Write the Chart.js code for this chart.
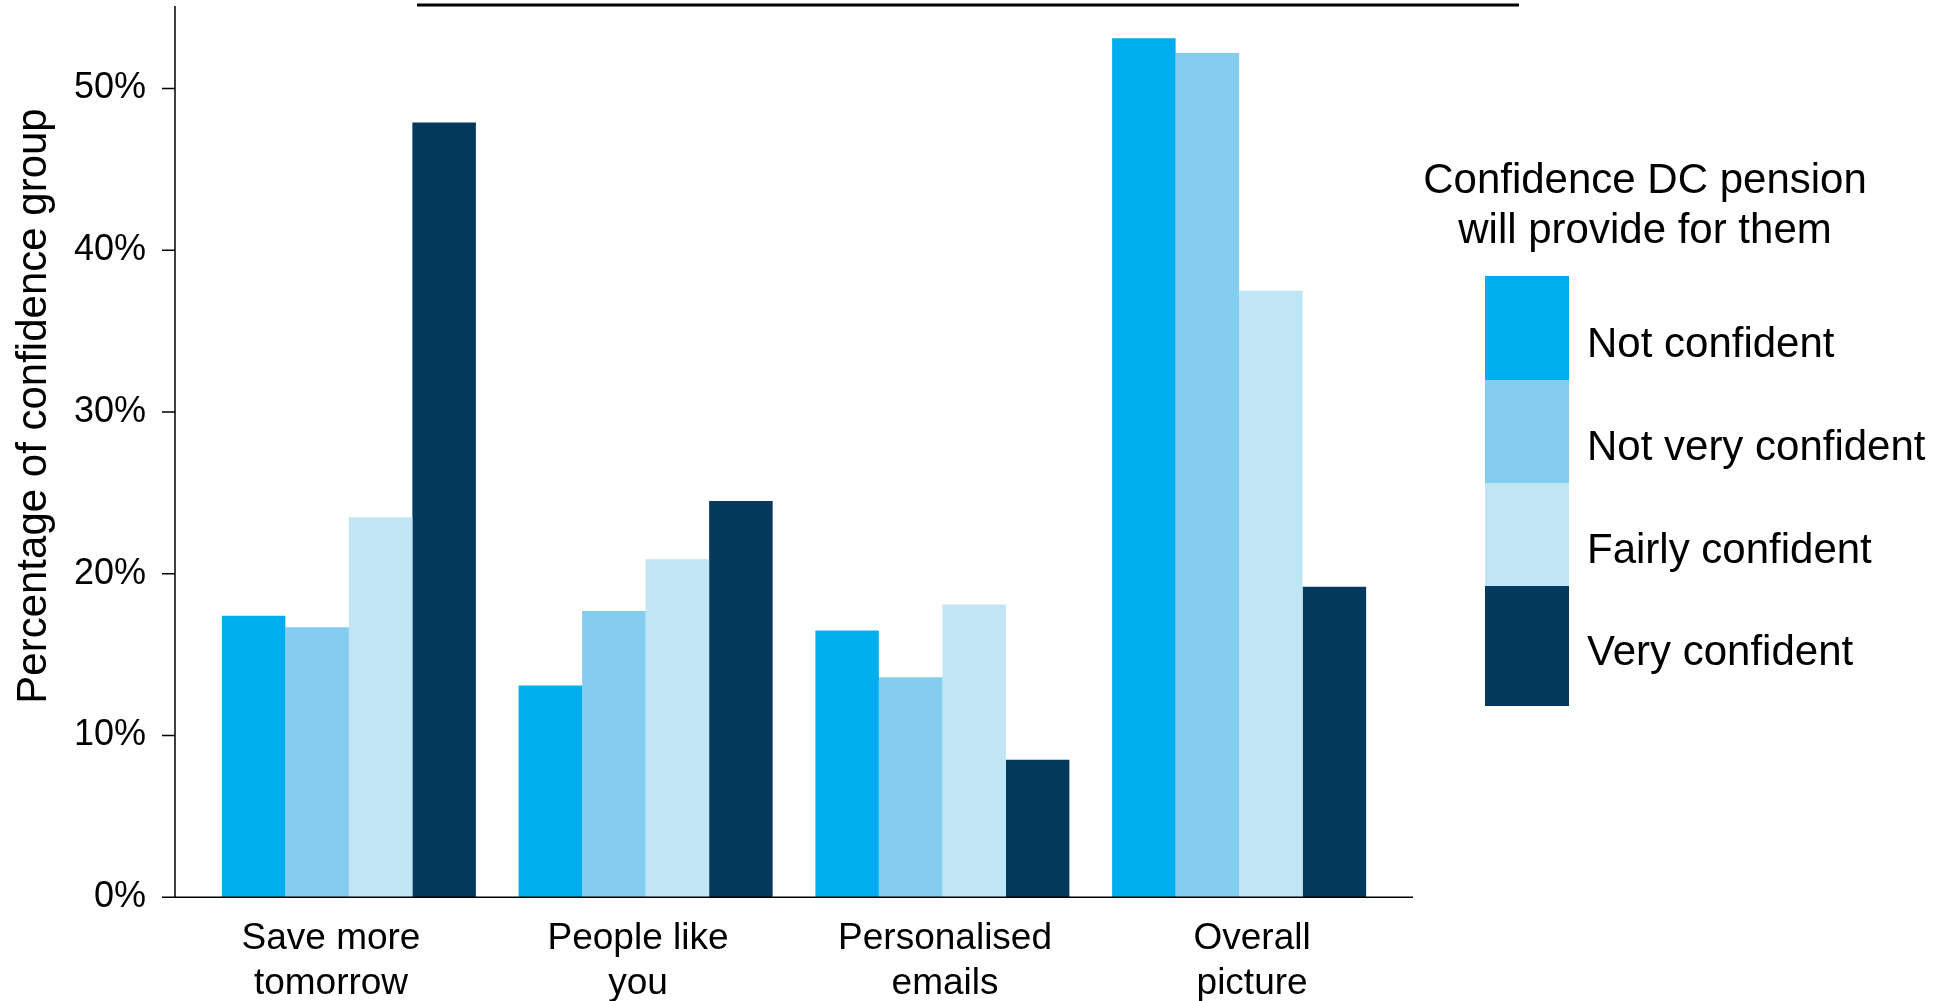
<!DOCTYPE html>
<html>
<head>
<meta charset="utf-8">
<title>Confidence DC pension</title>
<script src="https://cdn.jsdelivr.net/npm/chart.js@4.4.1/dist/chart.umd.min.js"></script>
<style>
  html, body { margin: 0; padding: 0; background: #fff; }
  #wrap { position: relative; width: 1952px; height: 1001px; }
</style>
</head>
<body>
<div id="wrap"><canvas id="chart"></canvas></div>
<script>
// ---------- data ----------
var CATEGORIES = [['Save more', 'tomorrow'], ['People like', 'you'], ['Personalised', 'emails'], ['Overall', 'picture']];
var SERIES = ['Not confident', 'Not very confident', 'Fairly confident', 'Very confident'];
var NOT_CONFIDENT      = [17.4, 13.1, 16.5, 53.1];
var NOT_VERY_CONFIDENT = [16.7, 17.7, 13.6, 52.2];
var FAIRLY_CONFIDENT   = [23.5, 20.9, 18.1, 37.5];
var VERY_CONFIDENT     = [47.9, 24.5, 8.5, 19.2];
var Y_TICKS = [0, 10, 20, 30, 40, 50];
var Y_TITLE = 'Percentage of confidence group';
var LEGEND_TITLE = ['Confidence DC pension', 'will provide for them'];

(function () {
  var COLORS = ['#00aeef', '#84cdee', '#c0e6f6', '#02395c'];
  var FONT = "'Liberation Sans', Arial, Helvetica, sans-serif";
  var AXIS_GAP = 25.5;   // khoảng giữa trục y và vùng cột
  var TICK_LEN = 13;

  Chart.defaults.font.family = FONT;
  Chart.defaults.color = '#000';

  // Vẽ trục, tiêu đề trục y, gạch chân tiêu đề và chú giải (legend tự vẽ)
  var decor = {
    id: 'decor',
    afterDraw: function (chart) {
      var ctx = chart.ctx, ca = chart.chartArea, y = chart.scales.y;
      var ax = ca.left - AXIS_GAP, y0 = y.getPixelForValue(0);
      ctx.save();
      ctx.strokeStyle = '#000';

      // gạch chân tiêu đề (chữ nằm ngoài khung hình)
      ctx.lineWidth = 3;
      ctx.beginPath(); ctx.moveTo(417, 5); ctx.lineTo(1519, 5); ctx.stroke();

      ctx.lineWidth = 1.5;
      ctx.beginPath();
      ctx.moveTo(ax, ca.top); ctx.lineTo(ax, y0);
      ctx.moveTo(ax - TICK_LEN, y0); ctx.lineTo(ca.right + AXIS_GAP, y0);
      Y_TICKS.forEach(function (v) {
        var py = y.getPixelForValue(v);
        ctx.moveTo(ax - TICK_LEN, py); ctx.lineTo(ax, py);
      });
      ctx.stroke();

      // tiêu đề trục y
      ctx.fillStyle = '#000';
      ctx.font = '42px ' + FONT;
      ctx.textAlign = 'center';
      ctx.textBaseline = 'middle';
      ctx.save();
      ctx.translate(34, 406);
      ctx.rotate(-Math.PI / 2);
      ctx.fillText(Y_TITLE, 0, 0);
      ctx.restore();

      // legend
      ctx.fillText(LEGEND_TITLE[0], 1645, 181);
      ctx.fillText(LEGEND_TITLE[1], 1645, 231);
      var bands = [276, 380, 483, 586, 706];
      var labelY = [345, 448, 551, 653];
      chart.data.datasets.forEach(function (ds, i) {
        ctx.fillStyle = ds.backgroundColor;
        ctx.fillRect(1485, bands[i], 84, bands[i + 1] - bands[i]);
        ctx.fillStyle = '#000';
        ctx.textAlign = 'left';
        ctx.fillText(ds.label, 1587, labelY[i]);
      });
      ctx.restore();
    }
  };

  var values = [NOT_CONFIDENT, NOT_VERY_CONFIDENT, FAIRLY_CONFIDENT, VERY_CONFIDENT];

  new Chart(document.getElementById('chart').getContext('2d'), {
    type: 'bar',
    data: {
      labels: CATEGORIES,
      datasets: SERIES.map(function (name, i) {
        return { label: name, data: values[i], backgroundColor: COLORS[i], borderWidth: 0,
          categoryPercentage: 0.856, barPercentage: 1 };
      })
    },
    options: {
      responsive: true, maintainAspectRatio: false, animation: false,
      layout: { padding: { top: 6, right: 564.5, left: 0, bottom: 0 } },
      plugins: { legend: { display: false }, tooltip: { enabled: false }, title: { display: false } },
      scales: {
        // trục của cột (ẩn); nhãn nằm trên trục xl, căn theo cả chiều dài trục như ảnh gốc
        x: { display: false },
        xl: {
          type: 'linear', position: 'bottom', min: -0.425, max: 3.441, offset: false,
          grid: { display: false, drawTicks: false, offset: false }, border: { display: false },
          ticks: { font: { size: 37, lineHeight: 1.22 }, padding: 19, maxRotation: 0, autoSkip: false,
            callback: function (v) { return CATEGORIES[v] || ''; } },
          afterBuildTicks: function (s) { s.ticks = CATEGORIES.map(function (c, i) { return { value: i }; }); },
          afterFit: function (s) { s.height = 103.7; s.paddingLeft = 0; s.paddingRight = 0; }
        },
        y: {
          min: 0, max: 55.1,
          grid: { display: false, drawTicks: false }, border: { display: false },
          ticks: { font: { size: 36 }, padding: 54.5, stepSize: 10, callback: function (v) { return v + '%'; } },
          afterBuildTicks: function (s) { s.ticks = Y_TICKS.map(function (v) { return { value: v }; }); },
          afterFit: function (s) { s.width = 200.5; s.paddingTop = 0; s.paddingBottom = 0; }
        }
      }
    },
    plugins: [decor]
  });
})();
</script>
</body>
</html>
